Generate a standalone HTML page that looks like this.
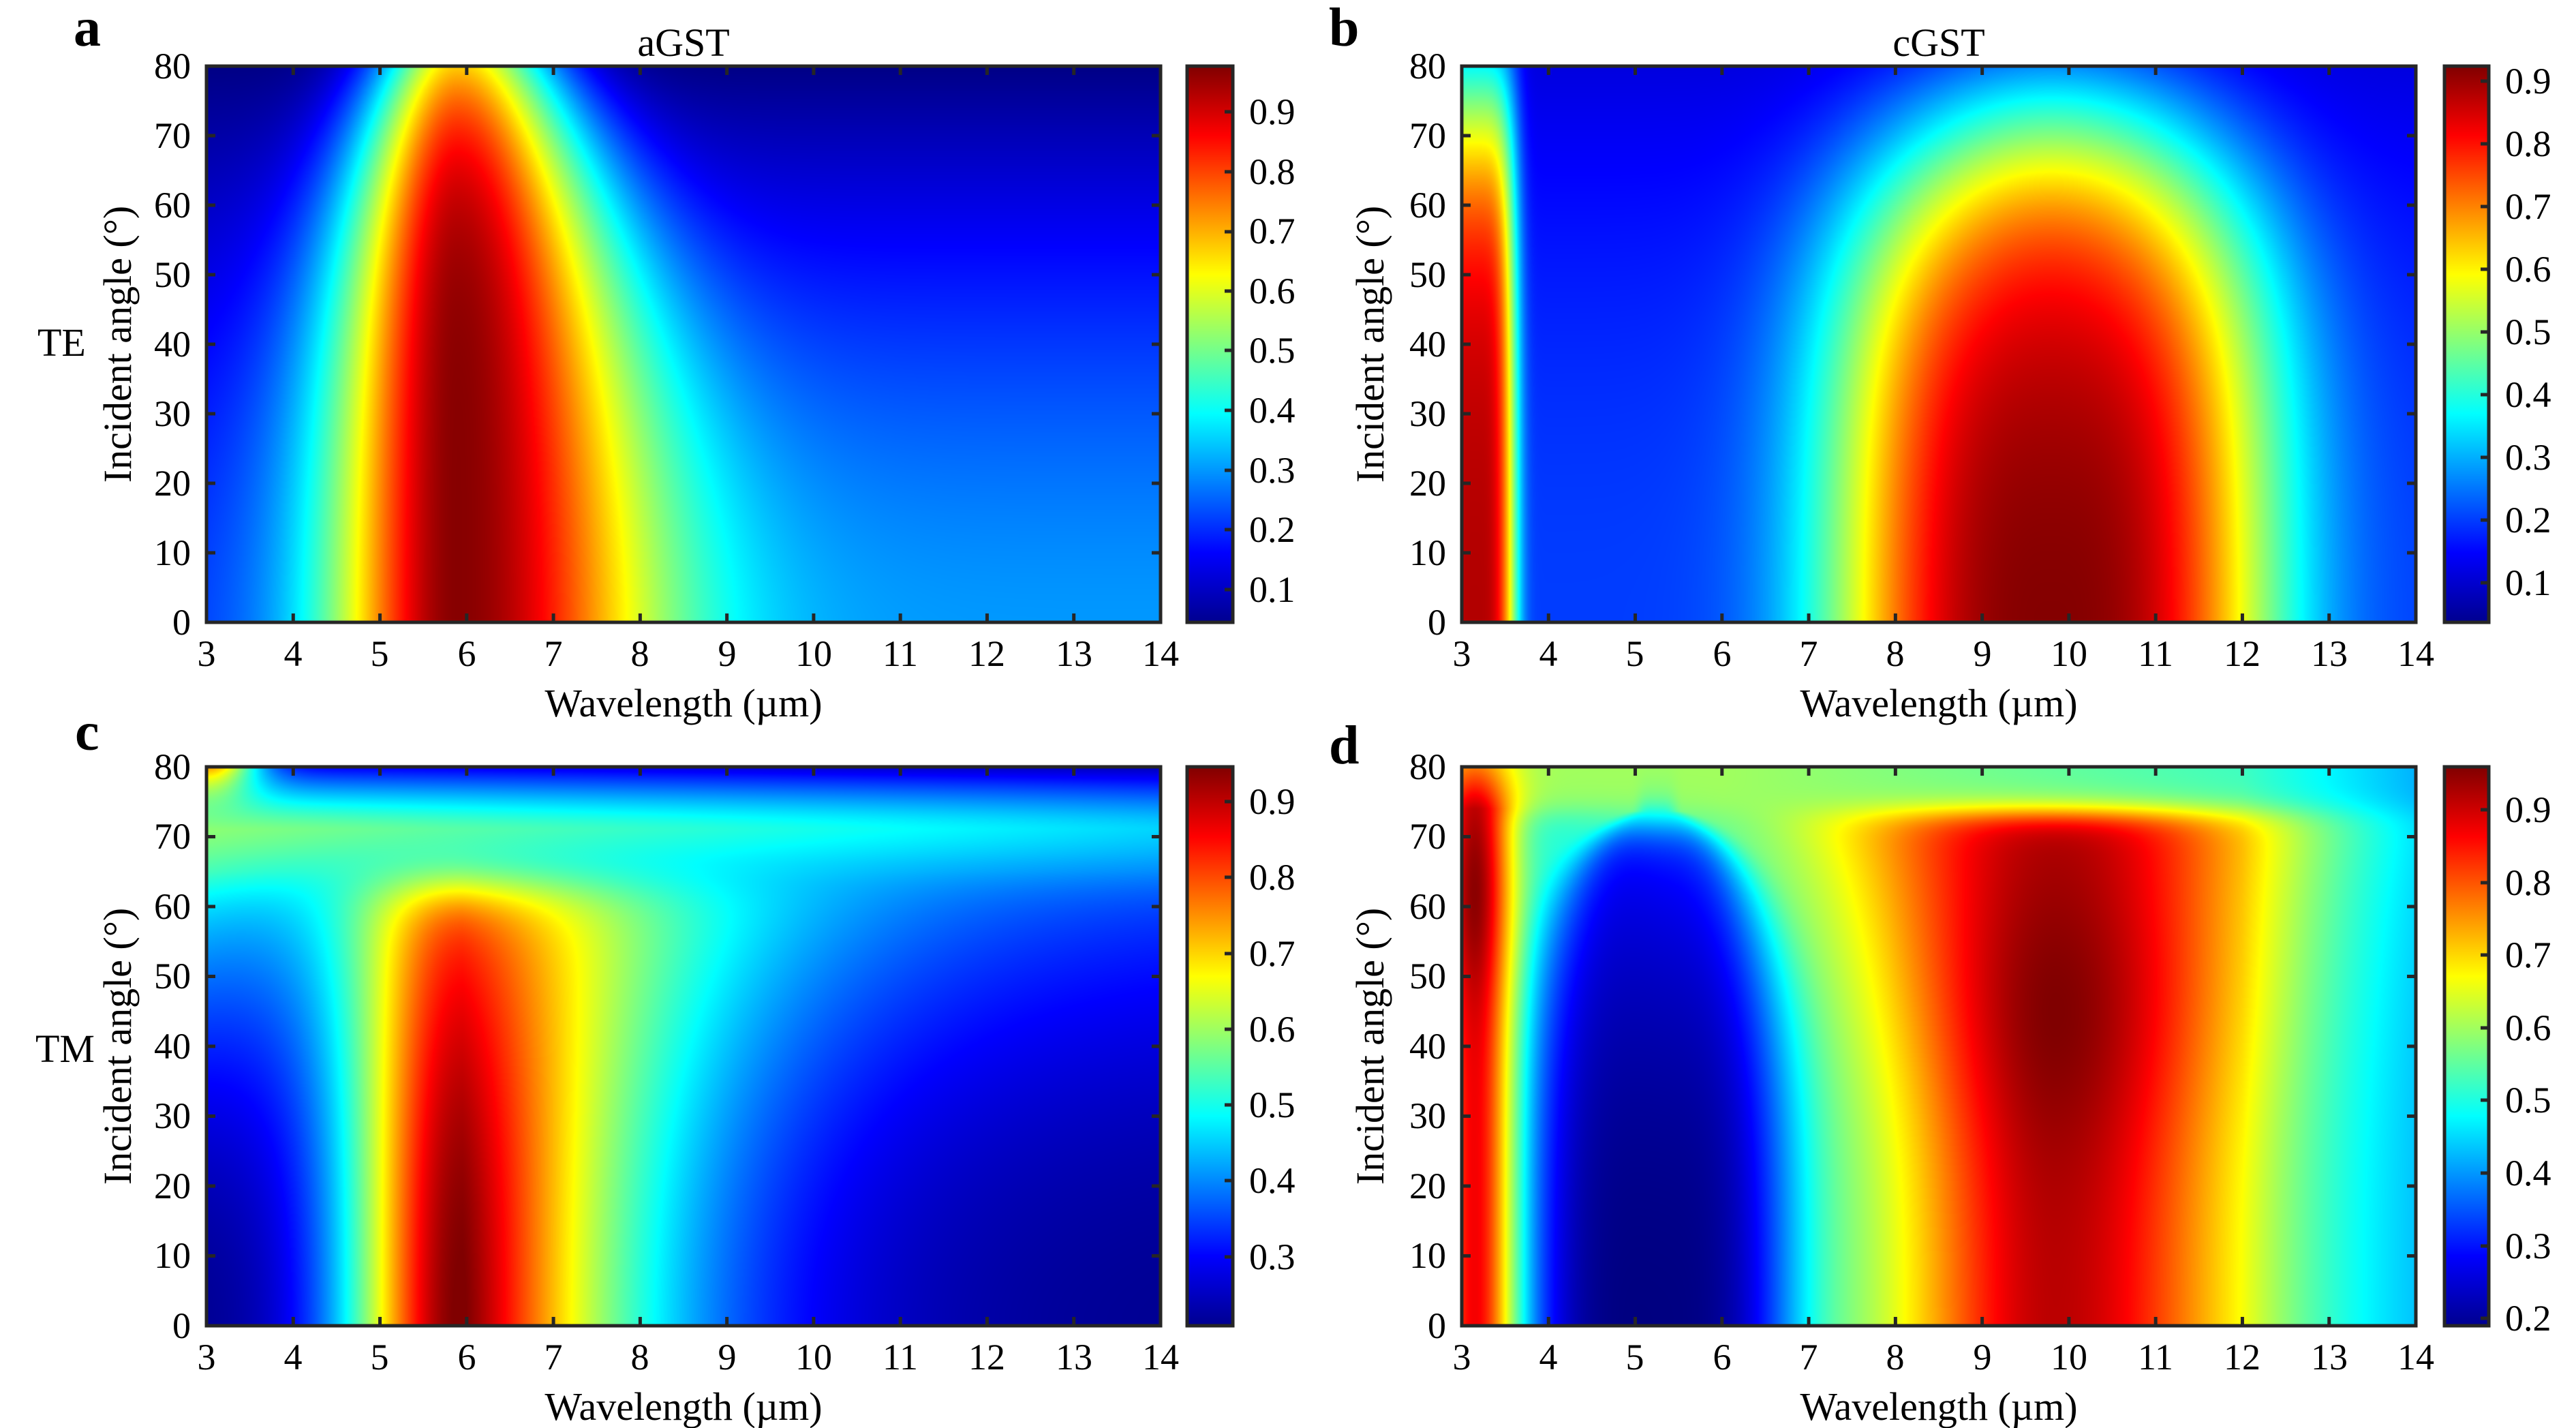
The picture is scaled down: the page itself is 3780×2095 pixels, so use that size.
<!DOCTYPE html>
<html><head><meta charset="utf-8">
<style>
html,body{margin:0;padding:0;background:#fff;}
body{width:3780px;height:2095px;position:relative;overflow:hidden;}
canvas{position:absolute;}
svg{position:absolute;left:0;top:0;}
text{font-family:"Liberation Serif",serif;fill:#000;}
.cb{position:absolute;background:linear-gradient(to top,#00008f 0%,#0000ff 12.5%,#00ffff 37.5%,#ffff00 62.5%,#ff0000 87.5%,#800000 100%);}
</style></head><body>
<canvas id="ca" width="1400" height="816" style="left:303px;top:97px"></canvas>
<canvas id="cbb" width="1400" height="816" style="left:2145px;top:97px"></canvas>
<canvas id="cc" width="1400" height="820" style="left:303px;top:1125px"></canvas>
<canvas id="cd" width="1400" height="820" style="left:2145px;top:1125px"></canvas>
<div class="cb" style="left:1742px;top:97px;width:67px;height:816px"></div>
<div class="cb" style="left:3587px;top:97px;width:65px;height:816px"></div>
<div class="cb" style="left:1742px;top:1125px;width:67px;height:820px"></div>
<div class="cb" style="left:3587px;top:1125px;width:65px;height:820px"></div>
<svg width="3780" height="2095" id="ov">
<g fill="none" stroke="#262626" stroke-width="5">
<rect x="303" y="97" width="1400" height="816"/>
<rect x="2145" y="97" width="1400" height="816"/>
<rect x="303" y="1125" width="1400" height="820"/>
<rect x="2145" y="1125" width="1400" height="820"/>
<rect x="1742" y="97" width="67" height="816"/>
<rect x="3587" y="97" width="65" height="816"/>
<rect x="1742" y="1125" width="67" height="820"/>
<rect x="3587" y="1125" width="65" height="820"/>
</g>
<g id="ticks" stroke="#262626" stroke-width="5"></g>
<g font-size="54" text-anchor="middle">
<text x="303" y="977">3</text><text x="430" y="977">4</text><text x="557" y="977">5</text><text x="685" y="977">6</text><text x="812" y="977">7</text><text x="939" y="977">8</text><text x="1067" y="977">9</text><text x="1194" y="977">10</text><text x="1321" y="977">11</text><text x="1448" y="977">12</text><text x="1576" y="977">13</text><text x="1703" y="977">14</text>
<text x="2145" y="977">3</text><text x="2272" y="977">4</text><text x="2399" y="977">5</text><text x="2527" y="977">6</text><text x="2654" y="977">7</text><text x="2781" y="977">8</text><text x="2909" y="977">9</text><text x="3036" y="977">10</text><text x="3163" y="977">11</text><text x="3290" y="977">12</text><text x="3418" y="977">13</text><text x="3545" y="977">14</text>
<text x="303" y="2009">3</text><text x="430" y="2009">4</text><text x="557" y="2009">5</text><text x="685" y="2009">6</text><text x="812" y="2009">7</text><text x="939" y="2009">8</text><text x="1067" y="2009">9</text><text x="1194" y="2009">10</text><text x="1321" y="2009">11</text><text x="1448" y="2009">12</text><text x="1576" y="2009">13</text><text x="1703" y="2009">14</text>
<text x="2145" y="2009">3</text><text x="2272" y="2009">4</text><text x="2399" y="2009">5</text><text x="2527" y="2009">6</text><text x="2654" y="2009">7</text><text x="2781" y="2009">8</text><text x="2909" y="2009">9</text><text x="3036" y="2009">10</text><text x="3163" y="2009">11</text><text x="3290" y="2009">12</text><text x="3418" y="2009">13</text><text x="3545" y="2009">14</text>
</g>
<g font-size="54" text-anchor="end">
<text x="280" y="931">0</text><text x="280" y="829">10</text><text x="280" y="727">20</text><text x="280" y="625">30</text><text x="280" y="523">40</text><text x="280" y="421">50</text><text x="280" y="319">60</text><text x="280" y="217">70</text><text x="280" y="115">80</text>
<text x="2122" y="931">0</text><text x="2122" y="829">10</text><text x="2122" y="727">20</text><text x="2122" y="625">30</text><text x="2122" y="523">40</text><text x="2122" y="421">50</text><text x="2122" y="319">60</text><text x="2122" y="217">70</text><text x="2122" y="115">80</text>
<text x="280" y="1963">0</text><text x="280" y="1860">10</text><text x="280" y="1758">20</text><text x="280" y="1655">30</text><text x="280" y="1553">40</text><text x="280" y="1450">50</text><text x="280" y="1348">60</text><text x="280" y="1245">70</text><text x="280" y="1143">80</text>
<text x="2122" y="1963">0</text><text x="2122" y="1860">10</text><text x="2122" y="1758">20</text><text x="2122" y="1655">30</text><text x="2122" y="1553">40</text><text x="2122" y="1450">50</text><text x="2122" y="1348">60</text><text x="2122" y="1245">70</text><text x="2122" y="1143">80</text>
</g>
<g font-size="54">
<text x="1833" y="883">0.1</text><text x="1833" y="795">0.2</text><text x="1833" y="708">0.3</text><text x="1833" y="620">0.4</text><text x="1833" y="532">0.5</text><text x="1833" y="445">0.6</text><text x="1833" y="357">0.7</text><text x="1833" y="270">0.8</text><text x="1833" y="182">0.9</text>
<text x="3676" y="873">0.1</text><text x="3676" y="781">0.2</text><text x="3676" y="689">0.3</text><text x="3676" y="597">0.4</text><text x="3676" y="505">0.5</text><text x="3676" y="413">0.6</text><text x="3676" y="321">0.7</text><text x="3676" y="229">0.8</text><text x="3676" y="137">0.9</text>
<text x="1833" y="1862">0.3</text><text x="1833" y="1750">0.4</text><text x="1833" y="1639">0.5</text><text x="1833" y="1528">0.6</text><text x="1833" y="1417">0.7</text><text x="1833" y="1305">0.8</text><text x="1833" y="1194">0.9</text>
<text x="3676" y="1952">0.2</text><text x="3676" y="1846">0.3</text><text x="3676" y="1739">0.4</text><text x="3676" y="1632">0.5</text><text x="3676" y="1526">0.6</text><text x="3676" y="1419">0.7</text><text x="3676" y="1313">0.8</text><text x="3676" y="1206">0.9</text>
</g>
<g font-size="58" text-anchor="middle">
<text x="1003" y="1051">Wavelength (µm)</text>
<text x="2845" y="1051">Wavelength (µm)</text>
<text x="1003" y="2083">Wavelength (µm)</text>
<text x="2845" y="2083">Wavelength (µm)</text>
<text x="1003" y="82">aGST</text>
<text x="2845" y="82">cGST</text>
<text transform="translate(192,505) rotate(-90)">Incident angle (°)</text>
<text transform="translate(2030,505) rotate(-90)">Incident angle (°)</text>
<text transform="translate(192,1535) rotate(-90)">Incident angle (°)</text>
<text transform="translate(2030,1535) rotate(-90)">Incident angle (°)</text>
</g>
<g font-size="58">
<text x="55" y="522">TE</text>
<text x="52" y="1558">TM</text>
</g>
<g font-size="80" font-weight="bold">
<text x="108" y="67">a</text>
<text x="1950" y="67">b</text>
<text x="110" y="1100">c</text>
<text x="1950" y="1120">d</text>
</g>
</svg>
<script>
function cl(x){return x<0?0:x>1?1:x;}
function jet(x){x=cl(x);return [cl(Math.min(4*x-1.5,-4*x+4.5)),cl(Math.min(4*x-0.5,-4*x+3.5)),cl(Math.min(4*x+0.5,-4*x+2.5))];}
function E(x){return Math.exp(x);}
function fa(L,T){var t=T/80,c=5.9,d=L-c;
 var wl=1.45*(1-0.35*t*t*t),wr=2.3*(1-0.5*t*t);var w=d<0?wl:wr;
 var bg=0.05+0.25*(1-Math.pow(t,1.5))*(0.65+0.35*Math.min(1,(L-3)/4));
 var A=0.97-0.3*Math.pow(t,6);
 return bg+(A-bg)*E(-(d/w)*(d/w));}
function fb(L,T){var t=T/80;var bg=0.2-0.08*t*t;
 var dx=(L-9.8)/3.0;var r=Math.sqrt(dx*dx+0.49*Math.pow(T/70,4.5));
 var v=bg+0.72*(1-0.12*Math.pow(Math.min(T,70)/60,2))*E(-Math.pow(r/0.85,3));
 var g=E(-Math.pow((L-3.15)/0.47,4));var A=0.68*E(-Math.pow(t,6));
 return v+A*g;}
function fc(L,T){var d=L-5.95;
 var wr=2.2*(1+0.3*Math.pow(Math.min(T,65)/60,2));
 var p=d<0?E(-(d/1.33)*(d/1.33)):E(-Math.pow(d/wr,1.3));
 var lowbg=0.22+Math.pow(Math.min(T,65)/65,2)*(0.13+0.14*E(-(L-3)/3));
 var Pv=0.95-0.1*Math.pow(T/50,2);
 var s=1/(1+E((T-65)/2.5));
 var low=lowbg+(Pv-lowbg)*s*p;
 var q=cl((T-71)/9);
 var U=(0.6-0.3*Math.pow(q,1.2))-0.012*(L-3)*(1-0.6*q)+0.45*E(-Math.pow((L-3)/0.6,2))*q*q;
 var h=1/(1+E(-(T-66)/2.5));
 return low*(1-h)+U*h;}
function fd(L,T){
 var base=0.5-0.08*cl((L-12)/2);
 var w=1.55*Math.sqrt(Math.max(0.02,1-Math.pow(T/74,4)));var h=1/(1+E((T-72)/2));
 var dome=0.31*(1-0.3*Math.pow(Math.min(T,72)/70,2))*E(-Math.pow((L-5.25)/w,4))*h;
 var tt=Math.pow(Math.min(T,75)/70,3);var dp=L-9.85;
 var wp=dp<0?1.85*(1+0.45*tt):2.25*(1+0.2*tt);
 var amp=0.45*(0.92+0.1*E(-Math.pow((T-45)/20,2)));var vm=1/(1+E((T-73.5)/1.2));
 var pk=amp*E(-(dp/wp)*(dp/wp))*vm;
 var v0=base-dome+pk+0.1*(1-vm)*(1-cl((L-6)/8));
 var g=E(-Math.pow((L-3.15)/0.45,2));
 var A=0.87+0.08*E(-Math.pow((T-62)/15,2))-0.12*cl((T-74)/6);
 return v0+(A-v0)*g;}
function draw(id,f,cmin,cmax){var c=document.getElementById(id),ctx=c.getContext('2d');
 var W=c.width,H=c.height,im=ctx.createImageData(W,H),D=im.data;
 for(var j=0;j<H;j++){var T=80*(1-(j+0.5)/H);
  for(var i=0;i<W;i++){var L=3+11*(i+0.5)/W;var v=f(L,T);var k=jet((v-cmin)/(cmax-cmin));var o=4*(j*W+i);
   D[o]=k[0]*255;D[o+1]=k[1]*255;D[o+2]=k[2]*255;D[o+3]=255;}}
 ctx.putImageData(im,0,0);}
draw('ca',fa,0.045,0.977);draw('cbb',fb,0.037,0.924);draw('cc',fc,0.209,0.946);draw('cd',fd,0.19,0.959);
var g=document.getElementById('ticks'),s='';
var P=[[303,1703,97,913],[2145,3545,97,913],[303,1703,1125,1945],[2145,3545,1125,1945]];
P.forEach(function(p){for(var k=0;k<=11;k++){var x=p[0]+(p[1]-p[0])*k/11;s+='<line x1="'+x+'" y1="'+p[3]+'" x2="'+x+'" y2="'+(p[3]-13)+'"/><line x1="'+x+'" y1="'+p[2]+'" x2="'+x+'" y2="'+(p[2]+13)+'"/>';}
 for(var k=0;k<=8;k++){var y=p[3]-(p[3]-p[2])*k/8;s+='<line x1="'+p[0]+'" y1="'+y+'" x2="'+(p[0]+13)+'" y2="'+y+'"/><line x1="'+p[1]+'" y1="'+y+'" x2="'+(p[1]-13)+'" y2="'+y+'"/>';}});
var C=[[1809,[865,777,690,602,514,427,340,252,164]],[3652,[855,763,671,579,487,395,303,211,119]],[1809,[1844,1732,1621,1510,1399,1287,1176]],[3652,[1934,1828,1721,1614,1508,1401,1295,1188]]];
C.forEach(function(c){c[1].forEach(function(y){s+='<line x1="'+c[0]+'" y1="'+y+'" x2="'+(c[0]-12)+'" y2="'+y+'"/>';});});
g.innerHTML=s;
</script>
</body></html>
